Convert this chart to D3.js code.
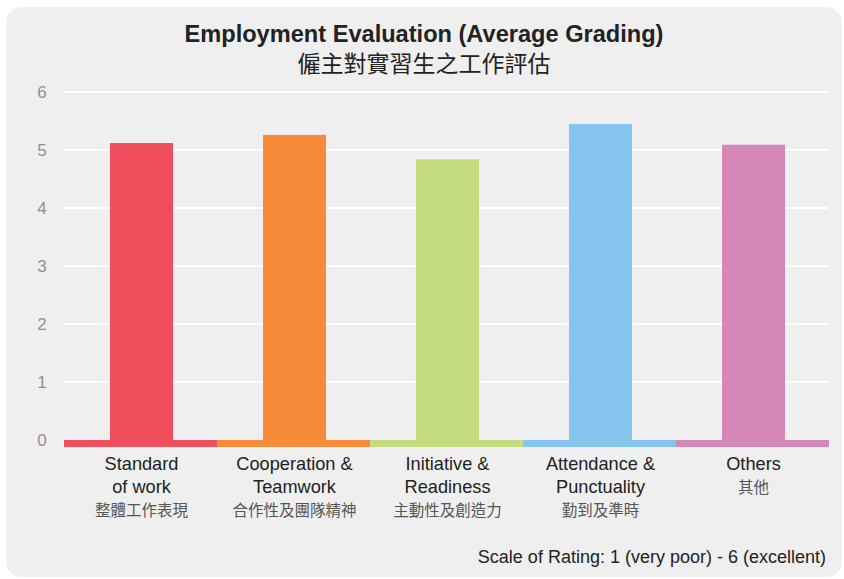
<!DOCTYPE html>
<html>
<head>
<meta charset="utf-8">
<script src="https://cdn.jsdelivr.net/npm/d3@7"></script>
<style>
  body { margin: 0; background: #fff; }
  text { font-family: "Liberation Sans", Arial, sans-serif; }
  .zh { font-family: "Noto Sans CJK TC", "Noto Sans CJK SC", sans-serif; }
</style>
</head>
<body>
<svg id="chart" width="844" height="579"></svg>
<script>
const categories = ['Standard of work', 'Cooperation & Teamwork', 'Initiative & Readiness', 'Attendance & Punctuality', 'Others']
const labelLines = [['Standard', 'of work'], ['Cooperation &', 'Teamwork'], ['Initiative &', 'Readiness'], ['Attendance &', 'Punctuality'], ['Others']]
const labelsZh = ['整體工作表現', '合作性及團隊精神', '主動性及創造力', '勤到及準時', '其他']
const values = [5.12, 5.26, 4.84, 5.45, 5.09]
const colors = ['#f04d5d', '#f78b3a', '#c4dc7d', '#85c4ed', '#d587b8']
const yTicks = [0, 1, 2, 3, 4, 5, 6]

const svg = d3.select('#chart');

svg.append('rect')
  .attr('x', 6).attr('y', 7)
  .attr('width', 836).attr('height', 570)
  .attr('rx', 16)
  .attr('fill', '#efefef');

const x = d3.scaleBand()
  .domain(categories)
  .range([64, 829])
  .padding(0);

const y = d3.scaleLinear()
  .domain([0, 6])
  .range([440, 92]);

// gridlines
svg.append('g')
  .selectAll('line')
  .data(yTicks.filter(d => d > 0))
  .join('line')
    .attr('x1', 64)
    .attr('x2', 828)
    .attr('y1', d => y(d))
    .attr('y2', d => y(d))
    .attr('stroke', '#fff')
    .attr('stroke-width', 2);

svg.append('g')
  .selectAll('text')
  .data(yTicks)
  .join('text')
    .attr('x', 42)
    .attr('y', d => y(d))
    .attr('dy', '0.36em')
    .attr('text-anchor', 'middle')
    .attr('fill', '#8f8f8f')
    .style('font-size', '17px')
    .text(d => d);

const barW = 63;

// baseline strips
svg.append('g')
  .selectAll('rect')
  .data(categories)
  .join('rect')
    .attr('x', d => x(d))
    .attr('y', y(0))
    .attr('width', x.bandwidth())
    .attr('height', 7)
    .attr('fill', (d, i) => colors[i]);

svg.append('g')
  .selectAll('rect')
  .data(categories)
  .join('rect')
    .attr('x', d => x(d) + x.bandwidth() / 2 - barW / 2 + 1)
    .attr('y', (d, i) => y(values[i]))
    .attr('width', barW)
    .attr('height', (d, i) => y(0) - y(values[i]))
    .attr('fill', (d, i) => colors[i]);

// category labels
const lab = svg.append('g')
  .selectAll('g')
  .data(categories)
  .join('g')
    .attr('transform', d => `translate(${x(d) + x.bandwidth() / 2 + 1},0)`);

lab.each(function(d, i) {
  const g = d3.select(this);
  labelLines[i].forEach((l, j) => {
    g.append('text')
      .attr('y', 470 + j * 23)
      .attr('text-anchor', 'middle')
      .attr('fill', '#222')
      .style('font-size', '18.2px')
      .text(l);
  });
  g.append('text')
    .attr('class', 'zh')
    .attr('y', 471 + labelLines[i].length * 23 - 1)
    .attr('text-anchor', 'middle')
    .attr('fill', '#555')
    .style('font-size', '15.5px')
    .text(labelsZh[i]);
});

// titles
svg.append('text')
  .attr('x', 424).attr('y', 42)
  .attr('text-anchor', 'middle')
  .attr('fill', '#222')
  .style('font-size', '23.6px')
  .style('font-weight', 'bold')
  .text('Employment Evaluation (Average Grading)');

svg.append('text')
  .attr('class', 'zh')
  .attr('x', 424).attr('y', 72)
  .attr('text-anchor', 'middle')
  .attr('fill', '#222')
  .style('font-size', '23px')
  .text('僱主對實習生之工作評估');

svg.append('text')
  .attr('x', 826).attr('y', 563)
  .attr('text-anchor', 'end')
  .attr('fill', '#222')
  .style('font-size', '18px')
  .text('Scale of Rating: 1 (very poor) - 6 (excellent)');
</script>
</body>
</html>
